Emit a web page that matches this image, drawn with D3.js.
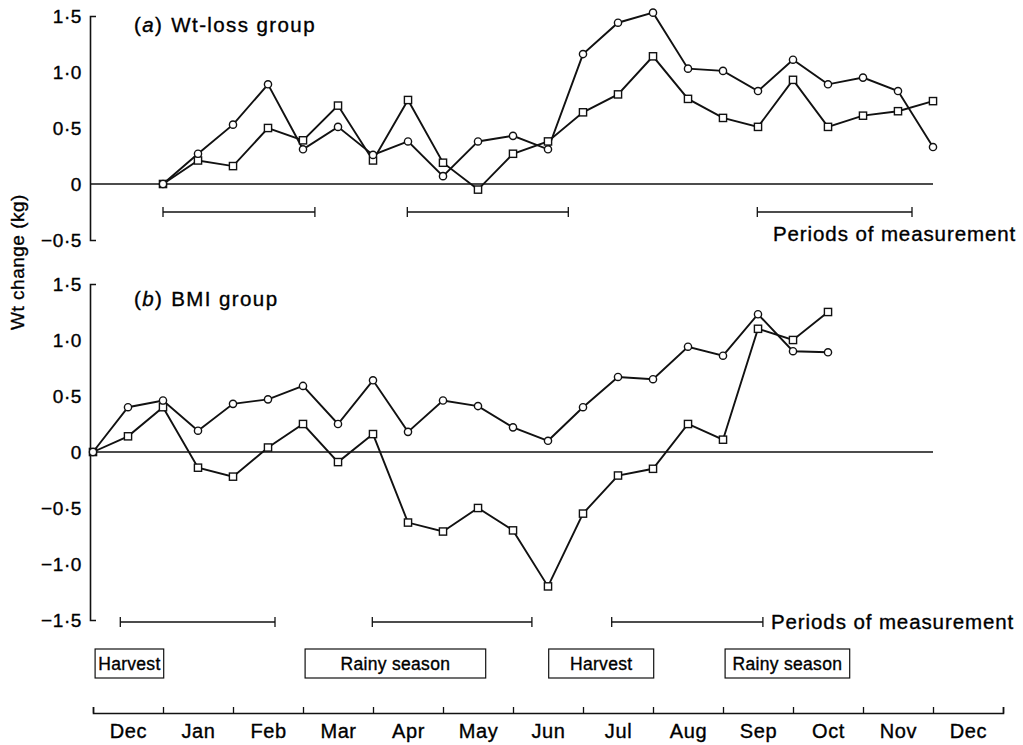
<!DOCTYPE html>
<html>
<head>
<meta charset="utf-8">
<script src="https://cdn.jsdelivr.net/npm/d3@7"></script>
<style>
  body { margin: 0; background: #fff; }
  svg text { font-family: "Liberation Sans", Arial, Helvetica, sans-serif; fill: #000;
             stroke: #000; stroke-width: 0.35px; }
</style>
</head>
<body>
<div id="canvas"></div>
<script>
// months along the bottom (Dec of one year to Dec of the next)
const months = ['Dec', 'Jan', 'Feb', 'Mar', 'Apr', 'May', 'Jun',
                'Jul', 'Aug', 'Sep', 'Oct', 'Nov', 'Dec'];

// time of each measurement, in months from the start of the first Dec
const timesA = [1, 1.5, 2, 2.5, 3, 3.5, 4, 4.5, 5, 5.5, 6, 6.5, 7, 7.5, 8,
                8.5, 9, 9.5, 10, 10.5, 11, 11.5, 12];
const timesB = [0, 0.5, 1, 1.5, 2, 2.5, 3, 3.5, 4, 4.5, 5, 5.5, 6, 6.5, 7,
                7.5, 8, 8.5, 9, 9.5, 10, 10.5];

// (a) Wt-loss group, kg
const circleA = [0, 0.27, 0.53, 0.89, 0.31, 0.51, 0.26, 0.38, 0.07, 0.38, 0.43, 0.31,
                 1.16, 1.44, 1.53, 1.03, 1.01, 0.83, 1.11, 0.89, 0.95, 0.83, 0.33];
const squareA = [0, 0.21, 0.16, 0.50, 0.39, 0.70, 0.21, 0.75, 0.19, -0.05, 0.27, 0.38,
                 0.64, 0.80, 1.14, 0.76, 0.59, 0.51, 0.93, 0.51, 0.61, 0.65, 0.74];

// (b) BMI group, kg
const circleB = [0, 0.40, 0.46, 0.19, 0.43, 0.47, 0.59, 0.25, 0.64, 0.18, 0.46,
                 0.41, 0.22, 0.10, 0.40, 0.67, 0.65, 0.94, 0.86, 1.23, 0.90, 0.89];
const squareB = [0, 0.14, 0.40, -0.14, -0.22, 0.04, 0.25, -0.09, 0.16, -0.63, -0.71,
                 -0.50, -0.70, -1.20, -0.55, -0.21, -0.15, 0.25, 0.11, 1.10, 1.00, 1.25];

const periodsA = [[1.0, 3.17], [4.49, 6.79], [9.49, 11.7]];
const periodsB = [[0.39, 2.6], [3.99, 6.27], [7.41, 9.57]];

const seasons = [['Harvest', 0.03, 1.01], ['Rainy season', 3.03, 5.61],
                 ['Harvest', 6.51, 8.01], ['Rainy season', 9.03, 10.81]];

const ticksA = [-0.5, 0, 0.5, 1.0, 1.5];
const ticksB = [-1.5, -1.0, -0.5, 0, 0.5, 1.0, 1.5];

const W = 1023, H = 745;
const axisX = 90;

let svg = d3.select("#canvas").append("svg")
    .attr("width", W).attr("height", H)

let x = d3.scaleLinear().domain([0, 13]).range([93, 1003])
let yA = d3.scaleLinear().domain([-0.5, 1.5]).range([240, 16])
let yB = d3.scaleLinear().domain([-1.5, 1.5]).range([620, 284])

const fmt = d => d === 0 ? '0' : (d < 0 ? '\u2212' : '') + Math.abs(d).toFixed(1).replace('.', '\u00b7')

function panel(y, ticks, times, circ, sq, periods, letter, name, titleY, barY, periodTextX, periodTextY) {
  // y axis: bracket ends pointing inward
  let ax = svg.append("g")
      .attr("transform", `translate(${axisX},0)`)
      .call(d3.axisLeft(y).tickValues(ticks).tickFormat(fmt)
              .tickSizeInner(0).tickSizeOuter(-6).tickPadding(8))
  ax.select(".domain").attr("stroke", "#111").attr("stroke-width", 1.6)
  ax.selectAll("text").attr("font-size", 19).attr("letter-spacing", 0.6).attr("fill", "#000")

  // zero line
  svg.append("line")
      .attr("x1", axisX).attr("x2", x(12))
      .attr("y1", y(0)).attr("y2", y(0))
      .attr("stroke", "#111").attr("stroke-width", 1.4)

  let line = d3.line().x(d => x(d[0])).y(d => y(d[1]))
  let cData = times.map((t, i) => [t, circ[i]])
  let sData = times.map((t, i) => [t, sq[i]])

  svg.append("path").datum(cData).attr("d", line)
      .attr("fill", "none").attr("stroke", "#111").attr("stroke-width", 1.9)
  svg.append("path").datum(sData).attr("d", line)
      .attr("fill", "none").attr("stroke", "#111").attr("stroke-width", 1.9)

  svg.selectAll(null).data(sData).enter().append("rect")
      .attr("x", d => x(d[0]) - 3.6).attr("y", d => y(d[1]) - 3.6)
      .attr("width", 7.2).attr("height", 7.2)
      .attr("fill", "#fff").attr("stroke", "#111").attr("stroke-width", 1.4)
  svg.selectAll(null).data(cData).enter().append("circle")
      .attr("cx", d => x(d[0])).attr("cy", d => y(d[1])).attr("r", 3.6)
      .attr("fill", "#fff").attr("stroke", "#111").attr("stroke-width", 1.4)

  // title
  let t = svg.append("text").attr("x", 134).attr("y", titleY)
      .attr("font-size", 20.5).attr("letter-spacing", 1.4)
  t.append("tspan").text("(")
  t.append("tspan").attr("font-style", "italic").text(letter)
  t.append("tspan").text(")")
  t.append("tspan").attr("dx", 8).text(name)

  // periods of measurement
  let pg = svg.append("g").attr("stroke", "#111").attr("stroke-width", 1.3)
  periods.forEach(p => {
    pg.append("line").attr("x1", x(p[0])).attr("x2", x(p[1])).attr("y1", barY).attr("y2", barY)
    pg.append("line").attr("x1", x(p[0])).attr("x2", x(p[0])).attr("y1", barY - 5).attr("y2", barY + 5)
    pg.append("line").attr("x1", x(p[1])).attr("x2", x(p[1])).attr("y1", barY - 5).attr("y2", barY + 5)
  })
  svg.append("text").attr("x", periodTextX).attr("y", periodTextY)
      .attr("font-size", 20.5).attr("letter-spacing", 0.9)
      .text("Periods of measurement")
}

panel(yA, ticksA, timesA, circleA, squareA, periodsA, 'a', 'Wt-loss group', 32, 212, 773, 241)
panel(yB, ticksB, timesB, circleB, squareB, periodsB, 'b', 'BMI group', 306, 622, 771, 629)

// y label
svg.append("text")
    .attr("transform", "translate(24,262) rotate(-90)")
    .attr("text-anchor", "middle")
    .attr("font-size", 19).attr("letter-spacing", 0.5)
    .text("Wt change (kg)")

// season boxes
let sg = svg.selectAll(null).data(seasons).enter().append("g")
sg.append("rect")
    .attr("x", d => x(d[1])).attr("y", 649)
    .attr("width", d => x(d[2]) - x(d[1])).attr("height", 29)
    .attr("fill", "none").attr("stroke", "#111").attr("stroke-width", 1.2)
sg.append("text")
    .attr("x", d => (x(d[1]) + x(d[2])) / 2).attr("y", 669.5)
    .attr("text-anchor", "middle").attr("font-size", 17.5).attr("letter-spacing", 0.3)
    .text(d => d[0])

// month axis: ticks at month boundaries, labels at mid-month
let mAxis = svg.append("g").attr("transform", "translate(0,713)")
    .call(d3.axisBottom(x).tickValues(d3.range(14)).tickFormat("")
            .tickSizeInner(-6).tickSizeOuter(-6))
mAxis.select(".domain").attr("stroke", "#111").attr("stroke-width", 1.6)
mAxis.selectAll(".tick line").attr("stroke", "#111").attr("stroke-width", 1.3)

let lAxis = svg.append("g").attr("transform", "translate(0,713)")
    .call(d3.axisBottom(x).tickValues(months.map((m, i) => i + 0.5))
            .tickFormat((d, i) => months[i]).tickSize(0).tickPadding(11))
lAxis.select(".domain").remove()
lAxis.selectAll("text").attr("font-size", 20).attr("letter-spacing", 0.6).attr("fill", "#000")
</script>
</body>
</html>
